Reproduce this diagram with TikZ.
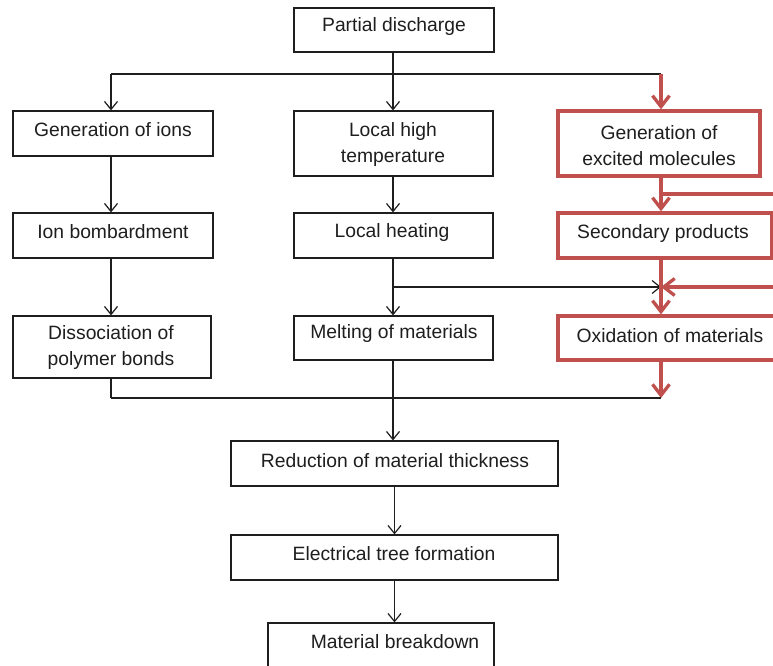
\documentclass[tikz,border=0pt]{standalone}
\usepackage{fontspec}
\setmainfont{Liberation Sans}
\usetikzlibrary{arrows.meta}
\definecolor{redbox}{RGB}{192,80,77}
\definecolor{ink}{RGB}{30,30,30}
\tikzset{
  box/.style={draw=ink, line width=1.2pt, fill=white, rectangle, inner sep=0pt},
  rbox/.style={draw=redbox, line width=3.3pt, fill=white, rectangle, inner sep=0pt},
  txt/.style={inner sep=0pt, align=center, text=ink, font=\fontsize{19.3}{26}\selectfont},
  con/.style={draw=ink, line width=1.2pt},
  arr/.style={con, -{Straight Barb[length=8pt,width=13pt,line width=1.2pt]}},
  rcon/.style={draw=redbox, line width=3.3pt},
  rarr/.style={rcon, -{Straight Barb[length=11pt,width=17pt,line width=3.3pt]}}
}
\newcommand{\bx}[7]{%
  \node[#1, minimum width={#4-#2}, minimum height={#5-#3}] (#6) at ({(#2+#4)/2},{(#3+#5)/2}) {};}
\begin{document}
\begin{tikzpicture}[x=1pt,y=-1pt]
\clip (0,0) rectangle (773,666);
\fill[white] (0,0) rectangle (773,666);
% boxes
\bx{box}{294}{8}{494}{52}{pd}{}
\bx{box}{13}{111}{213}{156}{gi}{}
\bx{box}{294}{111}{493}{176}{lht}{}
\bx{rbox}{558}{111}{760}{176}{gem}{}
\bx{box}{13}{213}{213}{258}{ib}{}
\bx{box}{294}{213}{493}{258}{lh}{}
\bx{rbox}{558}{213}{772}{258}{sp}{}
\bx{box}{13}{316}{211}{378}{dpb}{}
\bx{box}{294}{316}{493}{360}{mm}{}
\bx{rbox}{558}{316}{800}{360}{om}{}
\bx{box}{231}{441}{558}{486}{rmt}{}
\bx{box}{231}{535}{558}{580}{etf}{}
\bx{box}{268}{623}{494}{700}{mb}{}
% texts
\node[txt] (tpd) at (394,27) {Partial discharge};
\node[txt] (tgi) at (113,130) {Generation of ions};
\node[txt] (tlht) at (393,145) {Local high\\temperature};
\node[txt] (tgem) at (659,146) {Generation of\\excited molecules};
\node[txt] (tib) at (113,232) {Ion bombardment};
\node[txt] (tlh) at (392,233) {Local heating};
\node[txt] (tsp) at (663,234) {Secondary products};
\node[txt] (tdpb) at (111,348) {Dissociation of\\polymer bonds};
\node[txt] (tmm) at (394,334) {Melting of materials};
\node[txt] (tom) at (670,336) {Oxidation of materials};
\node[txt] (trmt) at (395,461) {Reduction of material thickness};
\node[txt] (tetf) at (394,554) {Electrical tree formation};
\node[txt] (tmb) at (395,642) {Material breakdown};
% coordinates
\coordinate (top) at (393,74);
\coordinate (topL) at (111,74);
\coordinate (topR) at (661,74);
\coordinate (mid) at (393,287);
\coordinate (midR) at (661,287);
\coordinate (edgeA) at (790,194);
\coordinate (brA) at (661,194);
\coordinate (edgeB) at (790,287);
\coordinate (bot) at (393,398);
\coordinate (botL) at (111,398);
\coordinate (botR) at (661,398);
% connectors
\draw[con] (pd.south -| top) -- (top);
\draw[con] (topL) -- (topR);
\draw[arr] (top) -- (lht.north -| top);
\draw[arr] (topL) -- (gi.north -| topL);
\draw[rarr] (topR) -- (gem.north -| topR);
\draw[arr] (gi.south -| topL) -- (ib.north -| topL);
\draw[arr] (ib.south -| topL) -- (dpb.north -| topL);
\draw[arr] (lht.south -| top) -- (lh.north -| top);
\draw[arr] (lh.south -| top) -- (mm.north -| top);
\draw[arr] (mid) -- (midR);
\draw[rarr] (gem.south -| topR) -- (sp.north -| topR);
\draw[rcon] (brA) -- (edgeA);
\draw[rarr] (sp.south -| topR) -- (om.north -| topR);
\draw[rarr] (edgeB) -- (midR);
\draw[rarr] (om.south -| topR) -- (botR);
\draw[con] (dpb.south -| botL) -- (botL);
\draw[con] (botL) -- (botR);
\draw[arr] (mm.south -| bot) -- (rmt.north -| bot);
\draw[arr] (rmt.south) -- (etf.north);
\draw[arr] (etf.south) -- (mb.north -| etf.south);
\end{tikzpicture}
\end{document}
